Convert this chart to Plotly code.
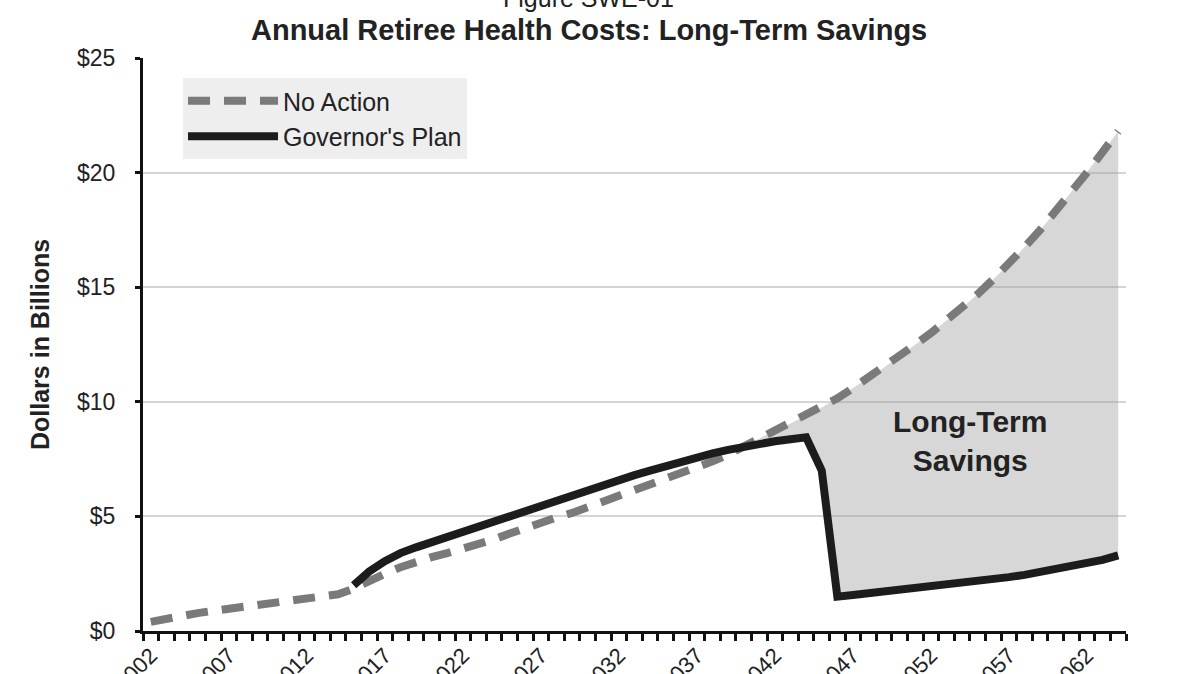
import plotly.graph_objects as go

# ---- data ----
years = list(range(2002, 2065))
no_action = [
    0.40, 0.55, 0.67, 0.78, 0.88, 0.97, 1.06, 1.15, 1.24, 1.33,
    1.42, 1.51, 1.60, 1.85, 2.20, 2.50, 2.78, 3.02, 3.22, 3.40,
    3.58, 3.80, 4.00, 4.25, 4.50, 4.72, 4.95, 5.15, 5.40, 5.65,
    5.88, 6.10, 6.35, 6.60, 6.85, 7.10, 7.40, 7.70, 8.05, 8.40,
    8.75, 9.05, 9.40, 9.75, 10.15, 10.60, 11.05, 11.50, 12.00, 12.50,
    13.00, 13.55, 14.10, 14.70, 15.35, 16.00, 16.75, 17.50, 18.30, 19.15,
    20.00, 20.90, 21.80,
]
gov_years = list(range(2015, 2065))
governor = [
    2.00, 2.60, 3.05, 3.40, 3.65, 3.88, 4.10, 4.32, 4.55, 4.78,
    5.00, 5.25, 5.48, 5.70, 5.92, 6.15, 6.38, 6.60, 6.80, 7.00,
    7.20, 7.40, 7.58, 7.75, 7.90, 8.05, 8.17, 8.28, 8.37, 8.45,
    7.00, 1.50, 1.57, 1.64, 1.71, 1.78, 1.85, 1.92, 2.00, 2.08,
    2.16, 2.25, 2.35, 2.45, 2.57, 2.69, 2.82, 2.95, 3.10, 3.30,
]
label_years = list(range(2002, 2063, 5))
y_ticks = [0, 5, 10, 15, 20, 25]

FONT = "Liberation Sans, Arial, sans-serif"
TXT = "#222222"

# savings region: from where No Action overtakes the Governor's Plan
na_map = dict(zip(years, no_action))
start = 0
for i, (yr, g) in enumerate(zip(gov_years, governor)):
    if g > na_map[yr]:
        start = i + 1
fx = gov_years[start:]
fy_top = [na_map[yr] for yr in fx]
fy_bot = governor[start:]

fig = go.Figure()
fig.add_trace(go.Scatter(
    x=fx + fx[::-1], y=fy_top + fy_bot[::-1], fill="toself",
    fillcolor="rgba(160,160,160,0.42)", line=dict(width=0),
    mode="lines", showlegend=False, hoverinfo="skip"))
fig.add_trace(go.Scatter(
    x=years, y=no_action, mode="lines", name="No Action",
    line=dict(color="#7a7a7a", width=8, dash="22px,14px"),
    legendgroup="a"))
fig.add_trace(go.Scatter(
    x=gov_years, y=governor, mode="lines", name="Governor's Plan",
    line=dict(color="#1c1c1c", width=8), legendgroup="b"))

fig.update_layout(
    width=1200, height=674,
    margin=dict(l=143, r=74, t=58, b=43, autoexpand=False),
    paper_bgcolor="white", plot_bgcolor="white",
    font=dict(family=FONT, color=TXT, size=22),
    showlegend=True,
    legend=dict(
        x=0.0407, y=0.965, xanchor="left", yanchor="top",
        bgcolor="#eeeeee", font=dict(size=25, family=FONT, color=TXT),
        itemwidth=90, tracegroupgap=8, traceorder="normal",
        borderwidth=0,
    ),
    xaxis=dict(
        range=[2001.5, 2064.5], showgrid=False, zeroline=False,
        automargin=False,
        showline=True, linecolor="#111111", linewidth=3,
        tickmode="array", tickvals=label_years,
        ticktext=[str(y) for y in label_years],
        ticks="", tickangle=-45, ticklabelstandoff=0,
        tickfont=dict(size=22, family=FONT, color=TXT),
        minor=dict(tickmode="linear", tick0=2001.5, dtick=1,
                   ticks="outside", ticklen=7, tickwidth=2.5,
                   tickcolor="#111111", showgrid=False),
    ),
    yaxis=dict(
        range=[0, 25], tickmode="array", tickvals=y_ticks,
        ticktext=["$" + str(v) for v in y_ticks],
        automargin=False,
        showgrid=True, gridcolor="#d4d4d4", gridwidth=2,
        zeroline=False, showline=True, linecolor="#111111", linewidth=3,
        ticks="outside", ticklen=5, tickwidth=2.5, tickcolor="#111111",
        ticklabelstandoff=15,
        tickfont=dict(size=23, family=FONT, color=TXT),
    ),
    annotations=[
        dict(text="Figure SWE-01", xref="paper", yref="paper",
             x=0.4535, y=1 + (58 - 14) / 573, xanchor="center",
             yanchor="bottom", showarrow=False,
             font=dict(size=25, family=FONT, color=TXT)),
        dict(text="<b>Annual Retiree Health Costs: Long-Term Savings</b>",
             xref="paper", yref="paper", x=0.4535, y=1 + (58 - 30) / 573,
             xanchor="center", yanchor="middle", showarrow=False,
             font=dict(size=29, family=FONT, color=TXT)),
        dict(text="<b>Dollars in Billions</b>", xref="paper", yref="paper",
             x=(40 - 143) / 983, y=(631 - 345) / 573, textangle=-90,
             xanchor="center", yanchor="middle", showarrow=False,
             font=dict(size=25, family=FONT, color=TXT)),
        dict(text="<b>Long-Term<br>Savings</b>", xref="x", yref="y",
             x=2054.5, y=8.3, xanchor="center", yanchor="middle",
             showarrow=False,
             font=dict(size=30, family=FONT, color=TXT)),
    ],
)

fig.write_html("out.html")
